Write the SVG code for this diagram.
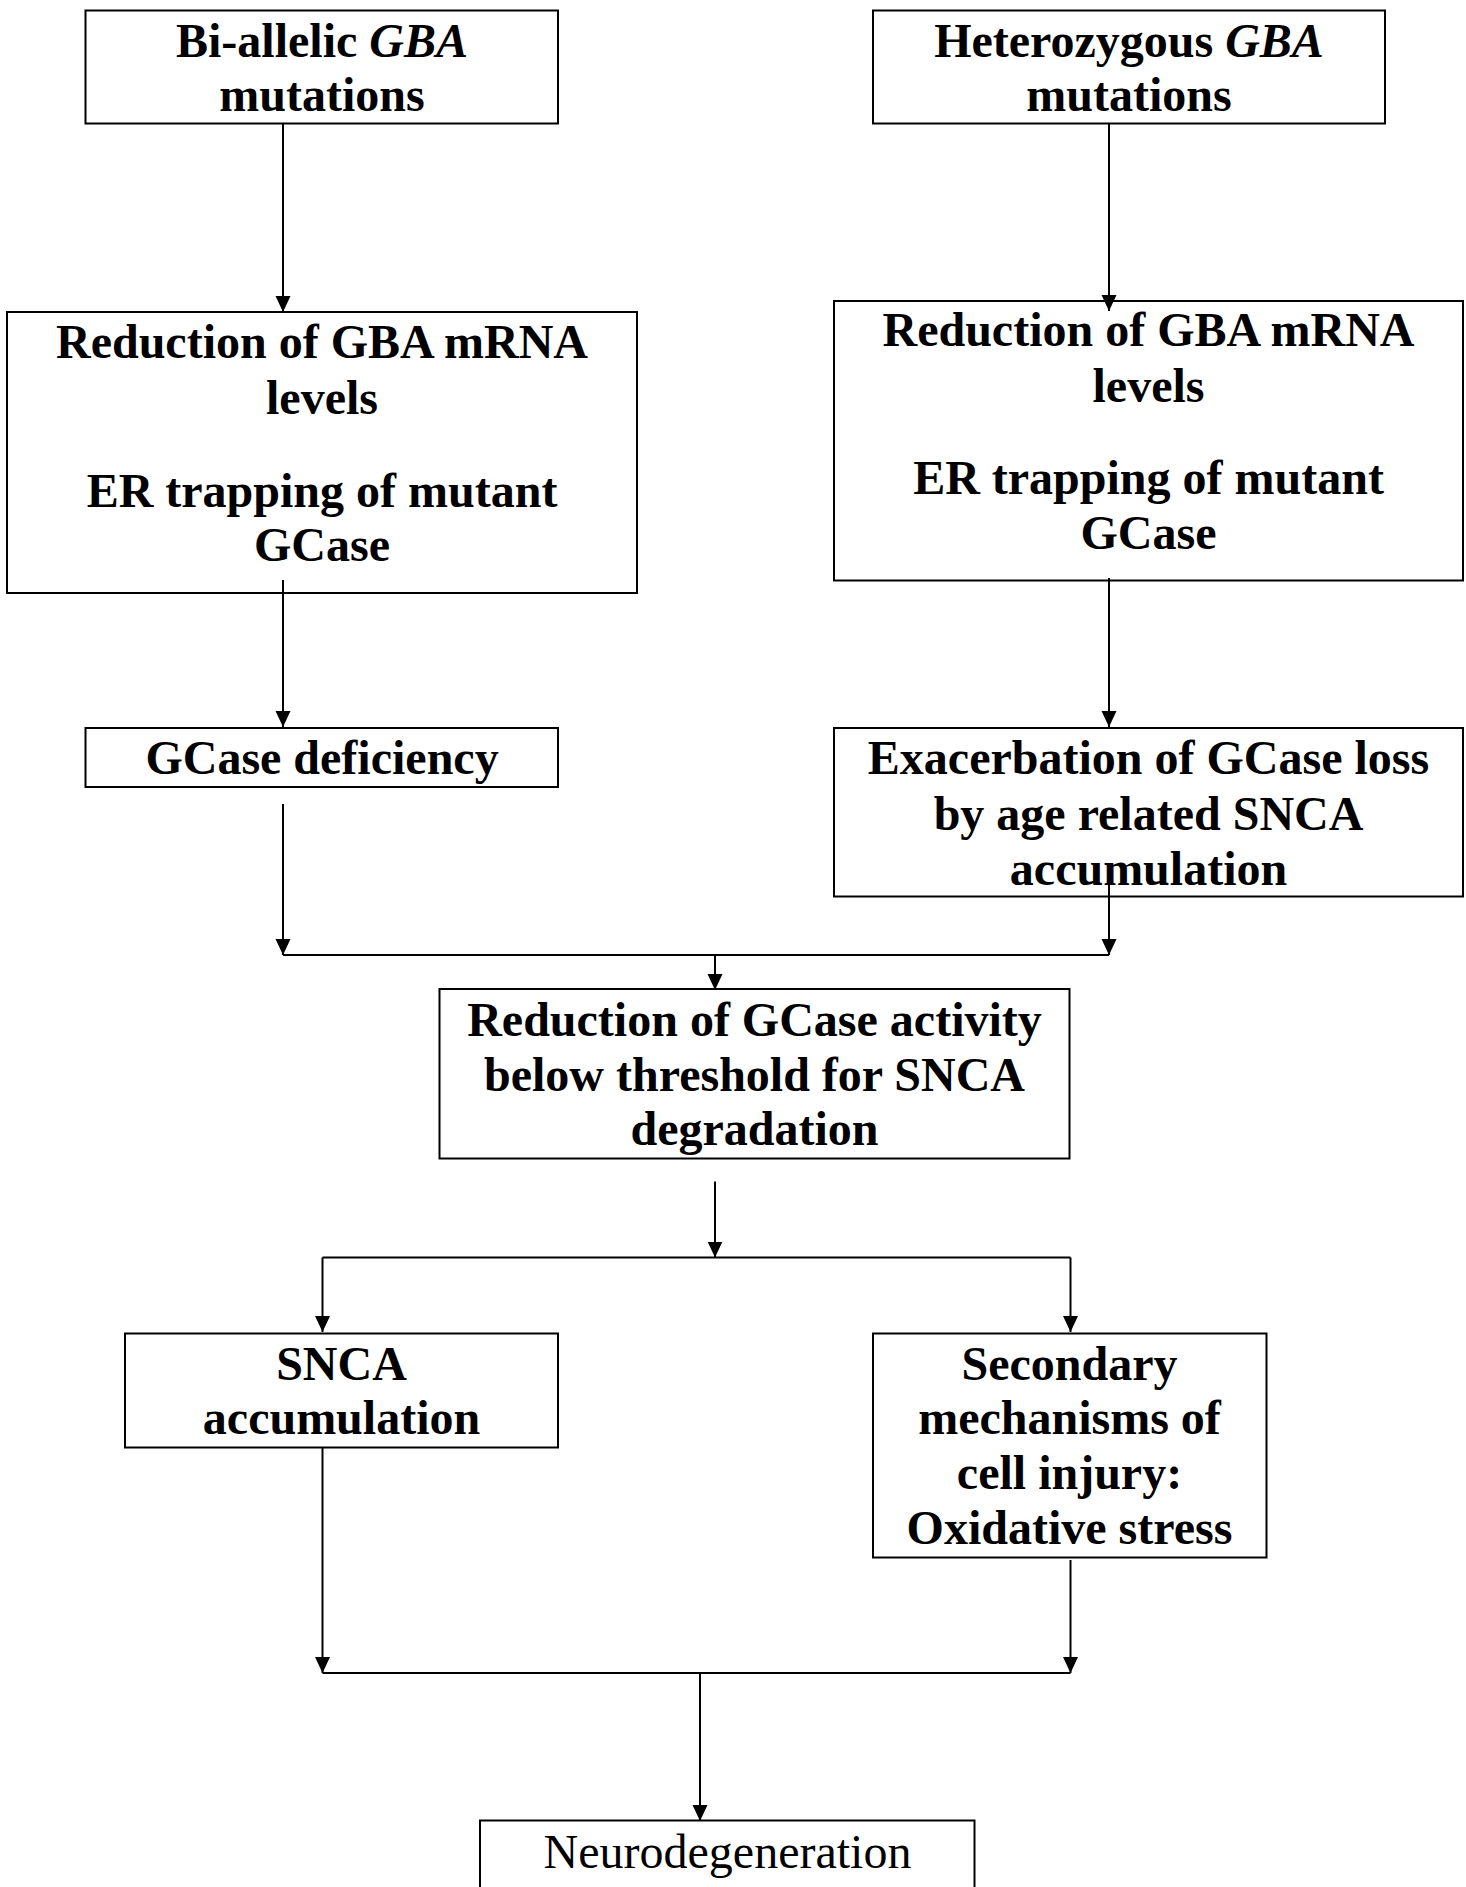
<svg xmlns="http://www.w3.org/2000/svg" width="1466" height="1887" viewBox="0 0 1466 1887">
<style>
.box{fill:#fff;stroke:#000;stroke-width:2}
.t{font-family:"Liberation Serif","Times New Roman",serif;font-size:48px;font-weight:bold;text-anchor:middle;fill:#000}
.n{font-weight:normal}
.c{fill:none;stroke:#000;stroke-width:2}
</style>
<defs>
<marker id="ah" markerUnits="userSpaceOnUse" markerWidth="16" markerHeight="16" refX="16" refY="8" orient="auto">
<path d="M0,0.5 L16,8 L0,15.5 z" fill="#000"/>
</marker>
</defs>
<rect width="1466" height="1887" fill="#fff"/>
<g id="n1">
<rect class="box" x="85.5" y="10.5" width="472.5" height="113"/>
<text class="t" x="322" y="57">Bi-allelic <tspan font-style="italic">GBA</tspan></text>
<text class="t" x="322" y="111">mutations</text>
</g>
<g id="n2">
<rect class="box" x="873" y="10.5" width="512" height="113"/>
<text class="t" x="1129" y="57">Heterozygous <tspan font-style="italic">GBA</tspan></text>
<text class="t" x="1129" y="111">mutations</text>
</g>
<g id="n3">
<rect class="box" x="7" y="312" width="630" height="281"/>
<text class="t" x="322" y="358">Reduction of GBA mRNA</text>
<text class="t" x="322" y="414">levels</text>
<text class="t" x="322" y="507">ER trapping of mutant</text>
<text class="t" x="322" y="561">GCase</text>
</g>
<g id="n4">
<rect class="box" x="834" y="301" width="629" height="279.5"/>
<text class="t" x="1148.5" y="346">Reduction of GBA mRNA</text>
<text class="t" x="1148.5" y="402">levels</text>
<text class="t" x="1148.5" y="494">ER trapping of mutant</text>
<text class="t" x="1148.5" y="549">GCase</text>
</g>
<g id="n5">
<rect class="box" x="85.5" y="728" width="472.5" height="59"/>
<text class="t" x="322" y="774">GCase deficiency</text>
</g>
<g id="n6">
<rect class="box" x="834" y="728" width="629" height="168.5"/>
<text class="t" x="1148.5" y="774">Exacerbation of GCase loss</text>
<text class="t" x="1148.5" y="830">by age related SNCA</text>
<text class="t" x="1148.5" y="885">accumulation</text>
</g>
<g id="n7">
<rect class="box" x="439.5" y="989" width="630" height="169.5"/>
<text class="t" x="754.5" y="1036">Reduction of GCase activity</text>
<text class="t" x="754.5" y="1091">below threshold for SNCA</text>
<text class="t" x="754.5" y="1145">degradation</text>
</g>
<g id="n8">
<rect class="box" x="125" y="1333.5" width="433" height="114"/>
<text class="t" x="341.5" y="1380">SNCA</text>
<text class="t" x="341.5" y="1434">accumulation</text>
</g>
<g id="n9">
<rect class="box" x="873" y="1333.5" width="393.5" height="224"/>
<text class="t" x="1069.5" y="1380">Secondary</text>
<text class="t" x="1069.5" y="1434">mechanisms of</text>
<text class="t" x="1069.5" y="1489">cell injury:</text>
<text class="t" x="1069.5" y="1544">Oxidative stress</text>
</g>
<g id="n10">
<rect class="box" x="480" y="1820.5" width="494.5" height="100"/>
<text class="t n" x="727.5" y="1868">Neurodegeneration</text>
</g>
<g id="connectors">
<line class="c" x1="283" y1="123.5" x2="283" y2="312" marker-end="url(#ah)"/>
<line class="c" x1="1109" y1="123.5" x2="1109" y2="311" marker-end="url(#ah)"/>
<line class="c" x1="283" y1="580" x2="283" y2="727" marker-end="url(#ah)"/>
<line class="c" x1="1109" y1="578" x2="1109" y2="727" marker-end="url(#ah)"/>
<line class="c" x1="283" y1="804" x2="283" y2="955" marker-end="url(#ah)"/>
<line class="c" x1="1109" y1="872" x2="1109" y2="955" marker-end="url(#ah)"/>
<line class="c" x1="283" y1="955" x2="1109" y2="955"/>
<line class="c" x1="715" y1="955" x2="715" y2="990" marker-end="url(#ah)"/>
<line class="c" x1="715" y1="1181.5" x2="715" y2="1257.5" marker-end="url(#ah)"/>
<line class="c" x1="322.5" y1="1257.5" x2="1070.5" y2="1257.5"/>
<line class="c" x1="322.5" y1="1257.5" x2="322.5" y2="1332" marker-end="url(#ah)"/>
<line class="c" x1="1070.5" y1="1257.5" x2="1070.5" y2="1332" marker-end="url(#ah)"/>
<line class="c" x1="322.5" y1="1447.5" x2="322.5" y2="1673" marker-end="url(#ah)"/>
<line class="c" x1="1070.5" y1="1560" x2="1070.5" y2="1673" marker-end="url(#ah)"/>
<line class="c" x1="322.5" y1="1673" x2="1070.5" y2="1673"/>
<line class="c" x1="700" y1="1672" x2="700" y2="1821" marker-end="url(#ah)"/>
</g>
</svg>
